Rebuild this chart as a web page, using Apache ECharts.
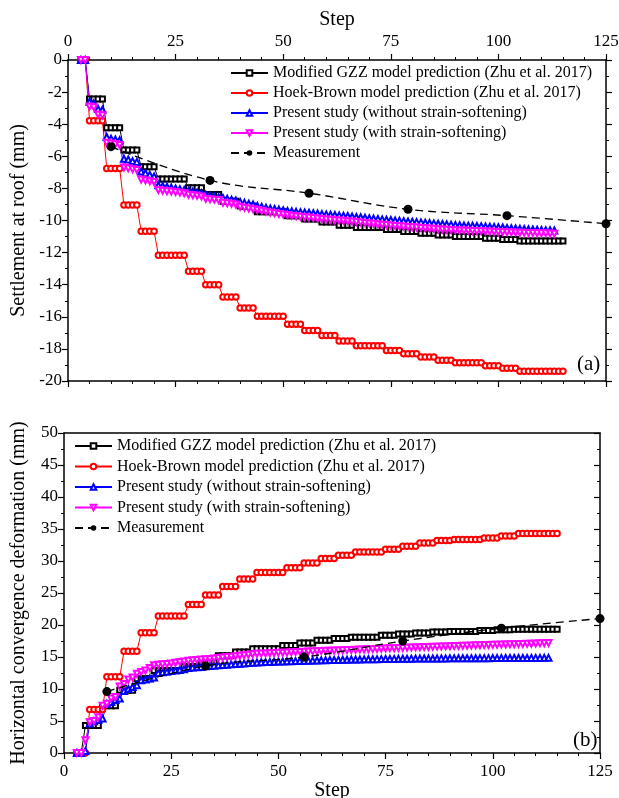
<!DOCTYPE html>
<html>
<head>
<meta charset="utf-8">
<title>Settlement and convergence vs step</title>
<script src="https://cdn.jsdelivr.net/npm/echarts@6.0.0/dist/echarts.min.js"></script>
<style>
html, body { margin: 0; padding: 0; background: #fff; }
#chart { width: 619px; height: 798px; }
</style>
</head>
<body>
<div id="chart"></div>
<script>
// series names (legend order)
var names = [
  'Modified GZZ model prediction (Zhu et al. 2017)',
  'Hoek-Brown model prediction (Zhu et al. 2017)',
  'Present study (without strain-softening)',
  'Present study (with strain-softening)',
  'Measurement'
];

// ---- panel (a): settlement at roof (mm), one value per step, first step = 3
var roofStart = 3;
var gzzRoof = [0, 0,
  -2.43, -2.43, -2.43, -2.43,
  -4.22, -4.22, -4.22, -4.22,
  -5.61, -5.61, -5.61, -5.61,
  -6.65, -6.65, -6.65, -6.65,
  -7.42, -7.42, -7.42, -7.42, -7.42, -7.42, -7.42,
  -7.96, -7.96, -7.96, -7.96,
  -8.38, -8.38, -8.38, -8.38,
  -8.8, -8.8, -8.8, -8.8,
  -9.1, -9.1, -9.1, -9.1,
  -9.45, -9.45, -9.45, -9.45, -9.45, -9.45, -9.45,
  -9.7, -9.7, -9.7, -9.7,
  -9.9, -9.9, -9.9, -9.9,
  -10.1, -10.1, -10.1, -10.1,
  -10.3, -10.3, -10.3, -10.3,
  -10.44, -10.44, -10.44, -10.44, -10.44, -10.44, -10.44,
  -10.56, -10.56, -10.56, -10.56,
  -10.68, -10.68, -10.68, -10.68,
  -10.8, -10.8, -10.8, -10.8,
  -10.9, -10.9, -10.9, -10.9,
  -11.0, -11.0, -11.0, -11.0, -11.0, -11.0, -11.0,
  -11.1, -11.1, -11.1, -11.1,
  -11.19, -11.19, -11.19, -11.19,
  -11.27, -11.27, -11.27, -11.27, -11.27, -11.27, -11.27, -11.27, -11.27, -11.27, -11.27];
var hbRoof = [0, 0,
  -3.78, -3.78, -3.78, -3.78,
  -6.76, -6.76, -6.76, -6.76,
  -9.04, -9.04, -9.04, -9.04,
  -10.67, -10.67, -10.67, -10.67,
  -12.16, -12.16, -12.16, -12.16, -12.16, -12.16, -12.16,
  -13.16, -13.16, -13.16, -13.16,
  -14.0, -14.0, -14.0, -14.0,
  -14.76, -14.76, -14.76, -14.76,
  -15.45, -15.45, -15.45, -15.45,
  -15.97, -15.97, -15.97, -15.97, -15.97, -15.97, -15.97,
  -16.47, -16.47, -16.47, -16.47,
  -16.85, -16.85, -16.85, -16.85,
  -17.16, -17.16, -17.16, -17.16,
  -17.5, -17.5, -17.5, -17.5,
  -17.8, -17.8, -17.8, -17.8, -17.8, -17.8, -17.8,
  -18.1, -18.1, -18.1, -18.1,
  -18.3, -18.3, -18.3, -18.3,
  -18.5, -18.5, -18.5, -18.5,
  -18.7, -18.7, -18.7, -18.7,
  -18.87, -18.87, -18.87, -18.87, -18.87, -18.87, -18.87,
  -19.05, -19.05, -19.05, -19.05,
  -19.2, -19.2, -19.2, -19.2,
  -19.4, -19.4, -19.4, -19.4, -19.4, -19.4, -19.4, -19.4, -19.4, -19.4, -19.4];
var noSoftRoof = [0, 0,
  -2.6, -2.7, -3.05, -3.1,
  -4.8, -4.9, -4.95, -5.0,
  -6.15, -6.2, -6.3, -6.35,
  -6.95, -7.05, -7.15, -7.25,
  -7.8, -7.85, -7.9, -7.95, -8.0, -8.05, -8.1,
  -8.15, -8.2, -8.25, -8.3,
  -8.4, -8.45, -8.5, -8.55,
  -8.6, -8.65, -8.7, -8.75,
  -8.85, -8.9, -8.95, -9.0,
  -9.1, -9.15, -9.2, -9.25, -9.28, -9.32, -9.36,
  -9.4, -9.43, -9.46, -9.48,
  -9.5, -9.52, -9.55, -9.57,
  -9.6, -9.62, -9.64, -9.66,
  -9.68, -9.7, -9.72, -9.75,
  -9.78, -9.8, -9.83, -9.86, -9.88, -9.9, -9.93,
  -9.95, -9.97, -10.0, -10.02,
  -10.04, -10.06, -10.08, -10.1,
  -10.12, -10.14, -10.16, -10.18,
  -10.2, -10.22, -10.24, -10.26,
  -10.28, -10.3, -10.31, -10.32, -10.33, -10.34, -10.35,
  -10.37, -10.39, -10.4, -10.42,
  -10.44, -10.46, -10.48, -10.5,
  -10.52, -10.53, -10.55, -10.56, -10.58, -10.59, -10.6, -10.61, -10.62];
var softRoof = [0, 0,
  -2.9, -2.95, -3.4, -3.45,
  -5.15, -5.2, -5.25, -5.3,
  -6.7, -6.75, -6.8, -6.85,
  -7.45, -7.5, -7.55, -7.6,
  -8.1, -8.15, -8.18, -8.2, -8.23, -8.26, -8.3,
  -8.4, -8.43, -8.46, -8.5,
  -8.65, -8.68, -8.7, -8.73,
  -8.9, -8.93, -8.96, -9.0,
  -9.15, -9.2, -9.25, -9.3,
  -9.35, -9.4, -9.45, -9.5, -9.55, -9.6, -9.63,
  -9.66, -9.7, -9.73, -9.76,
  -9.79, -9.82, -9.85, -9.88,
  -9.9, -9.93, -9.96, -9.98,
  -10.0, -10.02, -10.04, -10.06,
  -10.09, -10.12, -10.15, -10.18, -10.2, -10.23, -10.26,
  -10.28, -10.31, -10.34, -10.36,
  -10.38, -10.4, -10.42, -10.44,
  -10.46, -10.48, -10.5, -10.52,
  -10.54, -10.56, -10.58, -10.6,
  -10.61, -10.62, -10.63, -10.64, -10.65, -10.66, -10.67,
  -10.68, -10.69, -10.7, -10.71,
  -10.72, -10.73, -10.74, -10.75,
  -10.76, -10.77, -10.78, -10.78, -10.79, -10.8, -10.8, -10.81, -10.82];

// ---- panel (b): horizontal convergence deformation (mm), first step = 3
var convStart = 3;
var gzzConv = [0, 0,
  4.3, 4.3, 4.3, 4.3,
  7.4, 7.4, 7.4, 7.4,
  9.8, 9.8, 9.8, 9.8,
  11.6, 11.6, 11.6, 11.6,
  12.9, 12.9, 12.9, 12.9, 12.9, 12.9, 12.9,
  13.5, 13.5, 13.5, 13.5,
  14.2, 14.2, 14.2, 14.2,
  15.2, 15.2, 15.2, 15.2,
  15.8, 15.8, 15.8, 15.8,
  16.3, 16.3, 16.3, 16.3, 16.3, 16.3, 16.3,
  16.8, 16.8, 16.8, 16.8,
  17.2, 17.2, 17.2, 17.2,
  17.6, 17.6, 17.6, 17.6,
  17.9, 17.9, 17.9, 17.9,
  18.1, 18.1, 18.1, 18.1, 18.1, 18.1, 18.1,
  18.4, 18.4, 18.4, 18.4,
  18.6, 18.6, 18.6, 18.6,
  18.75, 18.75, 18.75, 18.75,
  18.9, 18.9, 18.9, 18.9,
  19.0, 19.0, 19.0, 19.0, 19.0, 19.0, 19.0,
  19.15, 19.15, 19.15, 19.15,
  19.25, 19.25, 19.25, 19.25,
  19.35, 19.35, 19.35, 19.35, 19.35, 19.35, 19.35, 19.35, 19.35, 19.35, 19.35];
var hbConv = [0, 0, 0,
  6.8, 6.8, 6.8, 6.8,
  11.9, 11.9, 11.9, 11.9,
  15.9, 15.9, 15.9, 15.9,
  18.8, 18.8, 18.8, 18.8,
  21.4, 21.4, 21.4, 21.4, 21.4, 21.4, 21.4,
  23.2, 23.2, 23.2, 23.2,
  24.7, 24.7, 24.7, 24.7,
  26.0, 26.0, 26.0, 26.0,
  27.2, 27.2, 27.2, 27.2,
  28.2, 28.2, 28.2, 28.2, 28.2, 28.2, 28.2,
  28.96, 28.96, 28.96, 28.96,
  29.7, 29.7, 29.7, 29.7,
  30.4, 30.4, 30.4, 30.4,
  30.9, 30.9, 30.9, 30.9,
  31.4, 31.4, 31.4, 31.4, 31.4, 31.4, 31.4,
  31.83, 31.83, 31.83, 31.83,
  32.3, 32.3, 32.3, 32.3,
  32.8, 32.8, 32.8, 32.8,
  33.2, 33.2, 33.2, 33.2,
  33.35, 33.35, 33.35, 33.35, 33.35, 33.35, 33.35,
  33.6, 33.6, 33.6, 33.6,
  33.9, 33.9, 33.9, 33.9,
  34.3, 34.3, 34.3, 34.3, 34.3, 34.3, 34.3, 34.3, 34.3, 34.3];
var noSoftConv = [0, 0, 0.3,
  4.6, 4.96, 5.2, 5.4,
  7.7, 7.97, 8.3, 8.5,
  9.7, 10.0, 10.3, 10.6,
  11.35, 11.5, 11.65, 11.8,
  12.5, 12.6, 12.7, 12.8, 12.9, 13.0, 13.1,
  13.3, 13.35, 13.4, 13.45,
  13.55, 13.6, 13.65, 13.7,
  13.75, 13.8, 13.85, 13.9,
  13.95, 14.0, 14.05, 14.1,
  14.15, 14.18, 14.2, 14.22, 14.25, 14.28, 14.3,
  14.32, 14.34, 14.36, 14.38,
  14.4, 14.42, 14.44, 14.46,
  14.48, 14.5, 14.52, 14.54,
  14.55, 14.56, 14.58, 14.6,
  14.61, 14.62, 14.63, 14.64, 14.65, 14.66, 14.67,
  14.68, 14.69, 14.7, 14.71,
  14.72, 14.73, 14.74, 14.75,
  14.75, 14.76, 14.76, 14.77,
  14.77, 14.78, 14.78, 14.79,
  14.79, 14.8, 14.8, 14.8, 14.81, 14.81, 14.82,
  14.82, 14.82, 14.83, 14.83,
  14.83, 14.84, 14.84, 14.84,
  14.85, 14.85, 14.85, 14.86, 14.86, 14.86, 14.87, 14.87];
var softConv = [0, 0, 2.0,
  4.8, 5.0, 5.6, 7.4, 7.7, 8.5, 8.75, 10.4, 10.8, 11.5,
  11.8, 12.4, 12.65, 12.9, 13.3, 13.7, 13.8, 13.85, 13.9, 14.0,
  14.1, 14.2, 14.3, 14.4, 14.5, 14.55, 14.6, 14.65, 14.7, 14.78,
  14.85, 14.92, 15.0, 15.05, 15.12, 15.2, 15.28, 15.35, 15.42, 15.5,
  15.53, 15.56, 15.59, 15.62, 15.65, 15.68, 15.71, 15.74, 15.77, 15.8,
  15.82, 15.85, 15.88, 15.9, 15.93, 15.96, 15.98, 16.0, 16.03, 16.06,
  16.08, 16.1, 16.13, 16.16, 16.18, 16.2, 16.23, 16.26, 16.3,
  16.32, 16.35, 16.37, 16.4, 16.42, 16.45, 16.47, 16.5, 16.52, 16.55,
  16.57, 16.6, 16.62, 16.64, 16.66, 16.68, 16.7, 16.73, 16.75, 16.77,
  16.8, 16.82, 16.84, 16.86, 16.88, 16.9, 16.92, 16.94, 16.96, 16.98,
  17.0, 17.02, 17.04, 17.06, 17.08, 17.1, 17.13, 17.16, 17.2];

// ---- measurements
var measSteps = [10, 33, 56, 79, 102, 125];
var measRoof = [-5.4, -7.5, -8.3, -9.3, -9.7, -10.2];
var measConv = [9.6, 13.6, 15.0, 17.5, 19.5, 21.0];

var FONT = 'Liberation Serif';
var chart = echarts.init(document.getElementById('chart'));

function pairs(start, vals) {
  return vals.map(function (v, i) { return [start + i, v]; });
}

function line() {
  return { show: true, onZero: false, lineStyle: { color: '#000', width: 1.5 } };
}

function tick(show, inside) {
  return { show: show, inside: !!inside, length: 6, lineStyle: { color: '#000', width: 1.2 } };
}

function minor(show, n) {
  return { show: show, splitNumber: n, length: 3, lineStyle: { color: '#000', width: 1 } };
}

var labelStyle = { fontFamily: FONT, fontSize: 17, color: '#000' };
var nameStyle = { fontFamily: FONT, fontSize: 20, color: '#000' };

function xAx(grid, pos, opts) {
  return Object.assign({
    type: 'value', gridIndex: grid, position: pos, min: 0, max: 125, interval: 25,
    axisLine: line(), splitLine: { show: false },
    axisTick: tick(true), minorTick: minor(true, 5),
    axisLabel: Object.assign({ margin: 10 }, labelStyle)
  }, opts);
}

function yAx(grid, pos, min, max, step, opts) {
  return Object.assign({
    type: 'value', gridIndex: grid, position: pos, min: min, max: max, interval: step,
    axisLine: line(), splitLine: { show: false },
    axisTick: tick(true), minorTick: minor(true, 2),
    axisLabel: Object.assign({ margin: 6 }, labelStyle)
  }, opts);
}

function sim(name, idx, data, symbol, color, size, rotate) {
  return {
    name: name, type: 'line', xAxisIndex: idx, yAxisIndex: idx, data: data,
    symbol: symbol, symbolSize: size, symbolRotate: rotate || 0, showAllSymbol: true,
    lineStyle: { color: color, width: 1 },
    itemStyle: { color: color, borderColor: color, borderWidth: 1 }
  };
}

function meas(idx, vals) {
  return {
    name: names[4], type: 'line', xAxisIndex: idx, yAxisIndex: idx,
    data: measSteps.map(function (s, i) { return [s, vals[i]]; }),
    smooth: 0.4, symbol: 'circle', symbolSize: 9,
    lineStyle: { color: '#000', width: 1.3, type: [8, 5] },
    itemStyle: { color: '#000' }, z: 5
  };
}

function legend(left, top, gap) {
  return {
    orient: 'vertical', left: left, top: top, itemWidth: 37, itemHeight: 7, itemGap: gap,
    selectedMode: false, data: names,
    textStyle: { fontFamily: FONT, fontSize: 16, color: '#000', lineHeight: 16 }
  };
}

var option = {
  animation: false,
  backgroundColor: '#fff',
  grid: [
    { left: 68, right: 13, top: 60, height: 321, outerBoundsMode: 'none' },
    { left: 64, right: 19, top: 433, height: 320, outerBoundsMode: 'none' }
  ],
  legend: [legend(225, 60, 4), legend(69, 433, 4.5)],
  xAxis: [
    xAx(0, 'top', { name: 'Step', nameLocation: 'middle', nameGap: 30, nameTextStyle: nameStyle }),
    xAx(0, 'bottom', { axisLabel: { show: false } }),
    xAx(1, 'bottom', { name: 'Step', nameLocation: 'middle', nameGap: 26, nameTextStyle: nameStyle }),
    xAx(1, 'top', { axisLabel: { show: false }, axisTick: { show: false }, minorTick: { show: false } })
  ],
  yAxis: [
    yAx(0, 'left', -20, 0, 2, { name: 'Settlement at roof (mm)', nameLocation: 'middle', nameGap: 39, nameTextStyle: nameStyle }),
    yAx(0, 'right', -20, 0, 2, { axisLabel: { show: false } }),
    yAx(1, 'left', 0, 50, 5, { name: 'Horizontal convergence deformation (mm)', nameLocation: 'middle', nameGap: 35, nameTextStyle: nameStyle }),
    yAx(1, 'right', 0, 50, 5, { axisLabel: { show: false }, axisTick: tick(true, true), minorTick: minor(true, 2) })
  ],
  series: [
    sim(names[0], 0, pairs(roofStart, gzzRoof), 'emptyRect', '#000', 5),
    sim(names[1], 0, pairs(roofStart, hbRoof), 'emptyCircle', '#ff0000', 5.5),
    sim(names[2], 0, pairs(roofStart, noSoftRoof), 'emptyTriangle', '#0000ff', 6),
    sim(names[3], 0, pairs(roofStart, softRoof), 'emptyTriangle', '#ff00ff', 6, 180),
    meas(0, measRoof),
    sim(names[0], 2, pairs(convStart, gzzConv), 'emptyRect', '#000', 5),
    sim(names[1], 2, pairs(convStart, hbConv), 'emptyCircle', '#ff0000', 5.5),
    sim(names[2], 2, pairs(convStart, noSoftConv), 'emptyTriangle', '#0000ff', 6),
    sim(names[3], 2, pairs(convStart, softConv), 'emptyTriangle', '#ff00ff', 6, 180),
    meas(2, measConv)
  ],
  graphic: [
    { type: 'text', left: 577, top: 354, style: { text: '(a)', font: '21px "Liberation Serif"', fill: '#000' } },
    { type: 'text', left: 573, top: 730, style: { text: '(b)', font: '21px "Liberation Serif"', fill: '#000' } }
  ]
};

chart.setOption(option);
</script>
</body>
</html>
